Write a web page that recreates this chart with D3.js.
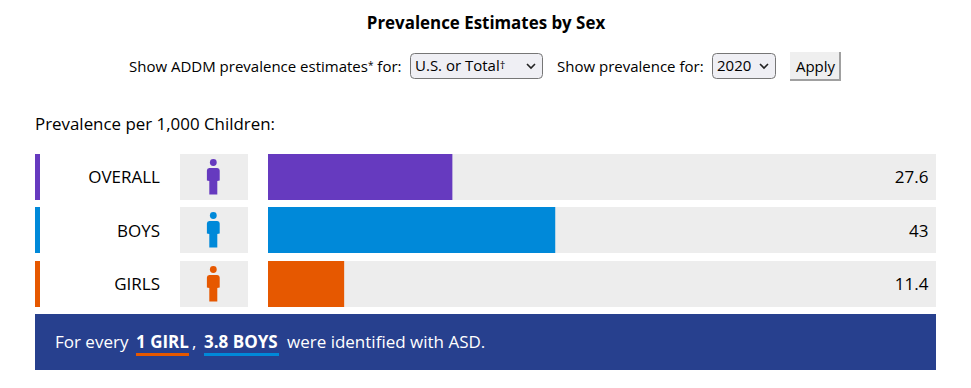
<!DOCTYPE html>
<html><head><meta charset="utf-8">
<script src="https://cdn.jsdelivr.net/npm/d3@7"></script>
<style>
html,body{margin:0;padding:0;background:#fff}
svg{display:block}
text{font-family:"Open Sans","Noto Sans",sans-serif;fill:#000}
</style></head><body><div id="chart"></div>
<script>
const categories=["OVERALL","BOYS","GIRLS"];
const values=[27.6,43,11.4];
const valueLabels=["27.6","43","11.4"];
const colors=["#663ABF","#0089D9","#E65800"];
const domainMax=[100];
const rowTops=[154,207,261];

const svg=d3.select("#chart").append("svg").attr("width",971).attr("height",388);
const x=d3.scaleLinear().domain([0,domainMax[0]]).range([268,936]);
const rowH=46;

svg.append("text").attr("x",486).attr("y",29).attr("text-anchor","middle")
  .style("font-size","16.9px").style("font-weight",700).text("Prevalence Estimates by Sex");

const fs="15px";
const lead=svg.append("text").attr("x",129).attr("y",72).style("font-size",fs);
lead.append("tspan").text("Show ADDM prevalence estimates");
lead.append("tspan").attr("dy",-3).style("font-size","10px").text("*");
lead.append("tspan").attr("dy",3).text(" for:");
svg.append("text").attr("x",557).attr("y",72).style("font-size",fs).text("Show prevalence for:");

function sel(x0,w,label,sup){
  svg.append("rect").attr("x",x0+.5).attr("y",53.5).attr("width",w-1).attr("height",25).attr("rx",4)
    .attr("fill","#EFEFF4").attr("stroke","#767676");
  const tx=svg.append("text").attr("x",x0+5).attr("y",71).style("font-size",fs);
  tx.append("tspan").text(label);
  if(sup) tx.append("tspan").attr("dy",-2).style("font-size","11px").text(sup);
  const cx=x0+w-12;
  svg.append("path").attr("d",`M${cx-4},64 L${cx},68 L${cx+4},64`).attr("fill","none").attr("stroke","#222").attr("stroke-width",1.6);
}
sel(410,133,"U.S. or Total","\u2020");
sel(712,64,"2020");

svg.append("rect").attr("x",790).attr("y",52).attr("width",51).attr("height",29).attr("fill","#A0A0A0");
svg.append("rect").attr("x",790).attr("y",52).attr("width",49).attr("height",27).attr("fill","#EFEFEF");
svg.append("text").attr("x",815.5).attr("y",72).attr("text-anchor","middle").style("font-size",fs).text("Apply");

svg.append("text").attr("x",35).attr("y",130).style("font-size","16.9px").text("Prevalence per 1,000 Children:");

const rows=svg.selectAll("g.row").data(categories).join("g").attr("class","row")
  .attr("transform",(d,i)=>`translate(0,${rowTops[i]})`);
rows.append("rect").attr("x",35).attr("width",5).attr("height",rowH).attr("fill",(d,i)=>colors[i]);
rows.append("text").attr("x",160).attr("y",(d,i)=>i===1?30:29).attr("text-anchor","end").style("font-size","17px").text(d=>d);
rows.append("rect").attr("x",180).attr("width",68).attr("height",rowH).attr("fill","#EDEDED");
rows.append("rect").attr("x",x(0)).attr("width",x(domainMax[0])-x(0)).attr("height",rowH).attr("fill","#EDEDED");
rows.append("rect").attr("x",x(0)).attr("width",(d,i)=>x(values[i])-x(0)).attr("height",rowH).attr("fill",(d,i)=>colors[i]);
rows.append("text").attr("x",928.5).attr("y",(d,i)=>i===1?30:29).attr("text-anchor","end").style("font-size","17px").text((d,i)=>valueLabels[i]);
const icon=rows.append("g").attr("transform","translate(213.3,0)").attr("fill",(d,i)=>colors[i]);
icon.append("circle").attr("cy",8.5).attr("r",3.4);
icon.append("path").attr("d","M-4,14 Q-6.4,14 -6.4,16.5 L-6.4,26.5 L-4,27 L-4,40.5 L4,40.5 L4,27 L6.4,26.5 L6.4,16.5 Q6.4,14 4,14 Z");

svg.append("rect").attr("x",35).attr("y",314).attr("width",901).attr("height",56).attr("fill","#27408E");
const by=347.5;
const t=(xp,s,b)=>svg.append("text").attr("x",xp).attr("y",by).style("font-size","17px").style("fill","#fff").style("font-weight",b?700:400).text(s);
t(55,"For every",false);
t(136,"1 GIRL",true);
t(192,",",false);
t(204,"3.8 BOYS",true);
t(287,"were identified with ASD.",false);
svg.append("rect").attr("x",136).attr("y",353).attr("width",53).attr("height",3).attr("fill",colors[2]);
svg.append("rect").attr("x",204).attr("y",353).attr("width",75).attr("height",3).attr("fill",colors[1]);
</script></body></html>
